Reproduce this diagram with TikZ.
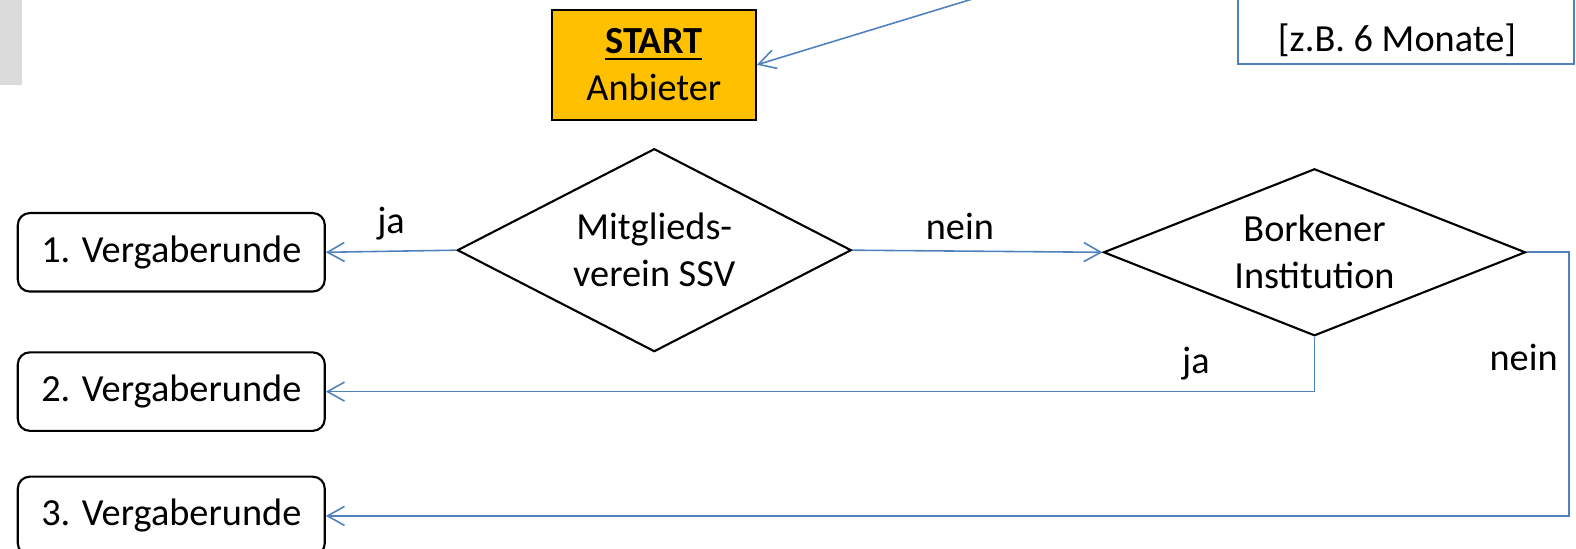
\documentclass[tikz,border=0pt]{standalone}
\usepackage{fontspec}
\setmainfont{Carlito}
\usepackage{tikz}
\usetikzlibrary{positioning}
\usetikzlibrary{arrows.meta}
\usetikzlibrary{shapes.geometric}

\definecolor{flowblue}{HTML}{4F81BD}
\definecolor{startgold}{HTML}{FFC000}

\begin{document}
\begin{tikzpicture}
    [every node/.style={font=\fontsize{10.9pt}{13.4pt}\selectfont,align=center,inner sep=0.3em}]

    \tikzstyle{vergabe}  = [draw,rounded corners=1.2mm,line width=0.6pt,minimum width=3.07cm,minimum height=0.785cm]
    \tikzstyle{frage}    = [draw,diamond,aspect=2.5,line width=0.6pt,inner sep=0pt]
    \tikzstyle{startbox} = [draw,fill=startgold,line width=0.6pt,minimum width=2.04cm,minimum height=1.10cm]
    \tikzstyle{flow}     = [draw=flowblue,line width=0.45pt,-{Straight Barb[length=1.7mm,width=1.9mm]}]
    \tikzstyle{note}     = [draw=flowblue,line width=0.6pt]
    \tikzstyle{answer}   = [draw=none]

    \useasboundingbox (0,0) rectangle (15.76,5.49);
    \fill [black!14] (0,4.636) rectangle (0.22,5.49);

    \node [startbox] (start) at (6.538,4.842) {\underline{\textbf{START}}\\Anbieter} ;
    \node [frage,minimum width=3.94cm,minimum height=2.03cm] (verein) at (6.543,2.988) {Mitglieds-\\verein SSV} ;
    \node [frage,minimum width=4.22cm,minimum height=1.67cm] (borken) at (13.145,2.967) {Borkener\\Institution} ;

    \node [vergabe] (r1) at (1.713,2.967) {1. Vergaberunde} ;
    \node [vergabe,below=0.587 of r1] (r2) {2. Vergaberunde} ;
    \node [vergabe,below=0.437 of r2] (r3) {3. Vergaberunde} ;

    \draw [note] (12.38,6.0) |- (15.74,4.85) -- (15.74,6.0) ;
    \node [answer] (dauer) at (13.97,5.09) {[z.B. 6 Monate]} ;

    \coordinate (oben) at (10.02,5.59) ;
    \draw [flow] (oben) -- (start.east) ;
    \draw [flow] (verein.west) -- node [answer,above] {ja} (r1.east) ;
    \draw [flow] (verein.east) -- node [answer,above,pos=0.43] {nein} (borken.west) ;
    \draw [flow] (borken.south) |- node [answer,above,pos=0.56] {ja} (r2.east) ;
    \draw [flow] (borken.east) -- ++(0.425,0) |- node [answer,left,pos=0.2] {nein} (r3.east) ;
\end{tikzpicture}
\end{document}
